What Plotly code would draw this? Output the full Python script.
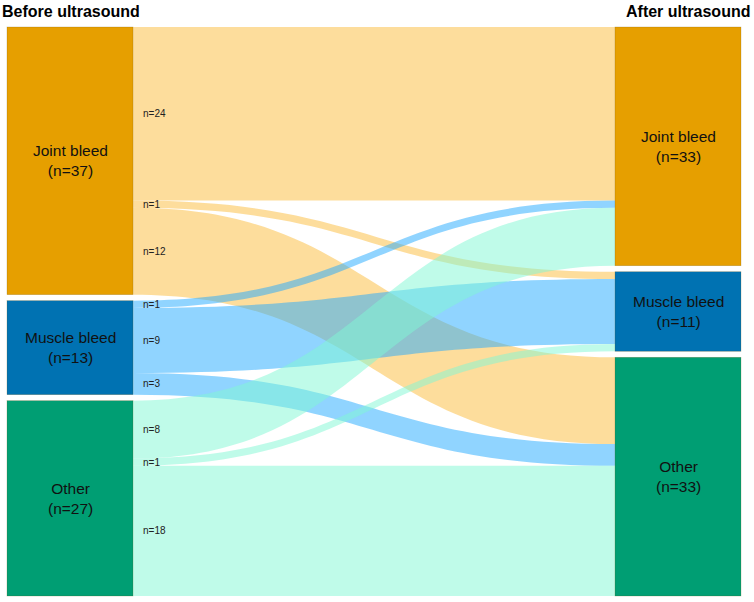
import plotly.graph_objects as go

# ---- data ----
categories = ["Joint bleed", "Muscle bleed", "Other"]
before_counts = [37, 13, 27]
after_counts = [33, 11, 33]
# flows[i][j]: before category i -> after category j
flows = [
    [24, 1, 12],
    [1, 9, 3],
    [8, 1, 18],
]
left_title = "Before ultrasound"
right_title = "After ultrasound"

# ---- styles ----
node_colors = ["#E69F00", "#0072B2", "#009E73"]
link_colors = ["rgba(251,188,58,0.5)", "rgba(34,170,255,0.5)", "rgba(128,247,212,0.5)"]
FONT = "Liberation Sans, Arial, sans-serif"

FIG_W, FIG_H = 754, 602
M_L, M_R, M_T, M_B = 7, 13, 27, 6
DOM_W = FIG_W - M_L - M_R
DOM_H = FIG_H - M_T - M_B
THICK = 126
PAD = 6

n = len(categories)
total = sum(before_counts)
ky = (DOM_H - (n - 1) * PAD) / total


def node_spans(counts):
    res = []
    y = 0.0
    for v in counts:
        res.append((y, y + v * ky))
        y += v * ky + PAD
    return res


left_nodes = node_spans(before_counts)
right_nodes = node_spans(after_counts)

x_left = (THICK / 2) / DOM_W
x_right = 1 - (THICK / 2) / DOM_W
node_x = [x_left] * n + [x_right] * n
node_y = [((a + b) / 2) / DOM_H for a, b in left_nodes + right_nodes]

sources, targets, values, lcolors = [], [], [], []
for i in range(n):
    for j in range(n):
        sources.append(i)
        targets.append(n + j)
        values.append(flows[i][j])
        lcolors.append(link_colors[i])

fig = go.Figure(go.Sankey(
    arrangement="fixed",
    domain=dict(x=[0, 1], y=[0, 1]),
    node=dict(
        label=[""] * (2 * n),
        x=node_x,
        y=node_y,
        color=node_colors + node_colors,
        thickness=THICK,
        pad=PAD,
        line=dict(color="rgba(110,80,0,0.35)", width=0.6),
    ),
    link=dict(source=sources, target=targets, value=values, color=lcolors,
              line=dict(width=0)),
    textfont=dict(size=1),
    hoverinfo="none",
))

annotations = []
for side, counts, nodes in (("L", before_counts, left_nodes), ("R", after_counts, right_nodes)):
    for k, (y0, y1) in enumerate(nodes):
        cy = (y0 + y1) / 2
        annotations.append(dict(
            x=x_left if side == "L" else x_right, y=1 - cy / DOM_H,
            xref="paper", yref="paper",
            text=f"{categories[k]}<br>(n={counts[k]})",
            showarrow=False, xanchor="center", yanchor="middle",
            font=dict(family=FONT, size=15.5, color="#111"),
        ))

# link labels at the source side of each link
for i in range(n):
    y = left_nodes[i][0]
    for j in range(n):
        v = flows[i][j]
        cy = y + v * ky / 2
        y += v * ky
        annotations.append(dict(
            x=(THICK + 8) / DOM_W, y=1 - cy / DOM_H, xref="paper", yref="paper",
            text=f"n={v}", showarrow=False, xanchor="left", yanchor="middle",
            font=dict(family=FONT, size=10, color="#222"),
        ))

annotations.append(dict(
    x=-M_L / DOM_W, y=1 + (M_T - 1) / DOM_H, xref="paper", yref="paper",
    text=f"<b>{left_title}</b>", showarrow=False, xanchor="left", yanchor="top",
    font=dict(family=FONT, size=16, color="#000"),
))
annotations.append(dict(
    x=1 + (M_R - 2) / DOM_W, y=1 + (M_T - 1) / DOM_H, xref="paper", yref="paper",
    text=f"<b>{right_title}</b>", showarrow=False, xanchor="right", yanchor="top",
    font=dict(family=FONT, size=16, color="#000"),
))

fig.update_layout(
    width=FIG_W, height=FIG_H,
    margin=dict(l=M_L, r=M_R, t=M_T, b=M_B),
    paper_bgcolor="white",
    annotations=annotations,
    showlegend=False,
)

fig.write_html("out.html", config={"displayModeBar": False},
               post_script="document.body.style.margin='0';")
